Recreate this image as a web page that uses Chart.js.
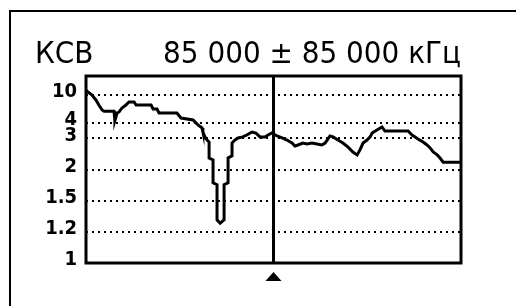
<!DOCTYPE html>
<html>
<head>
<meta charset="utf-8">
<script src="https://cdn.jsdelivr.net/npm/chart.js@4/dist/chart.umd.min.js"></script>
<style>
html,body{margin:0;padding:0;background:#fff;}
canvas{display:block;}
</style>
</head>
<body>
<canvas id="c" width="516" height="306"></canvas>
<script>
// ---- data ----
const titleLeft = 'КСВ';
const titleRight = '85 000 ± 85 000 кГц';
const freqMin = 0, freqCenter = 85, freqMax = 170; // MHz
const yTicks = [1, 1.2, 1.5, 2, 3, 4, 10];
const freqMHz = [0, 2.7, 4.5, 5.9, 7.3, 8.2, 11.3, 12.7, 13.1, 14.1,
  15.0, 16.3, 18.1, 19.5, 21.8, 22.7, 29.5, 30.4, 32.2, 33.1,
  41.2, 43.1, 48.5, 49.4, 50.8, 52.6, 53.0, 53.9, 54.9, 55.8,
  55.8, 57.6, 57.6, 59.4, 59.4, 60.8, 62.6, 62.6, 64.4, 64.4,
  66.2, 66.2, 67.5, 68.9, 71.1, 72.9, 75.2, 77.0, 78.9, 81.1,
  82.5, 84.3, 86.6, 88.9, 91.1, 93.4, 94.7, 96.1, 98.3, 100.2,
  102.4, 104.7, 106.9, 108.4, 110.6, 112.0, 114.2, 116.5, 118.8, 121.0,
  122.9, 124.2, 125.6, 127.4, 128.8, 129.7, 131.9, 134.2, 135.5, 146.0,
  147.8, 149.2, 150.5, 152.8, 154.6, 156.0, 157.4, 159.2, 160.5, 161.9,
  170.0];
const swr = [13.0, 9.8, 7.8, 6.4, 5.5, 5.3, 5.3, 5.3, 4.2, 5.05,
  5.2, 5.85, 6.45, 7.2, 7.2, 6.45, 6.45, 5.67, 5.67, 5.05,
  5.05, 4.45, 4.25, 4.07, 3.82, 3.6, 3.34, 3.07, 2.92, 2.83,
  2.28, 2.23, 1.75, 1.72, 1.30, 1.27, 1.30, 1.72, 1.75, 2.28,
  2.34, 2.79, 2.92, 3.02, 3.07, 3.17, 3.34, 3.28, 3.07, 3.07,
  3.17, 3.28, 3.12, 3.02, 2.92, 2.79, 2.67, 2.71, 2.79, 2.75,
  2.79, 2.75, 2.71, 2.79, 3.12, 3.07, 2.92, 2.79, 2.63, 2.46,
  2.37, 2.53, 2.79, 2.92, 3.07, 3.28, 3.46, 3.67, 3.4, 3.4,
  3.17, 3.07, 2.97, 2.83, 2.71, 2.60, 2.46, 2.37, 2.28, 2.17,
  2.17];

// ---- SWR scale: position proportional to 1 - 1/SWR ----
class SwrScale extends Chart.Scale {
  static id = 'swr';
  static defaults = {};
  determineDataLimits() { this.min = 1; this.max = 1000; }
  buildTicks() { return yTicks.map(v => ({ value: v })); }
  getLabelForValue(v) { return String(v); }
  getPixelForValue(v) { return this.getPixelForDecimal(1 - 1 / v); }
  getPixelForTick(i) { return this.getPixelForValue(this.ticks[i].value); }
  getValueForPixel(p) { return 1 / (1 - this.getDecimalForPixel(p)); }
}
Chart.register(SwrScale);

const FONT = '"DejaVu Sans Condensed", "Liberation Sans Narrow", "DejaVu Sans", sans-serif';
Chart.defaults.color = '#000';
Chart.defaults.font.family = FONT;

const decor = {
  id: 'decor',
  beforeDraw(chart) {
    const c = chart.ctx;
    c.save();
    c.fillStyle = '#fff';
    c.fillRect(0, 0, chart.width, chart.height);
    c.strokeStyle = '#000';
    c.lineWidth = 2;
    c.strokeRect(10, 11, chart.width + 20, chart.height + 20);
    c.restore();
  },
  afterDatasetsDraw(chart) {
    const c = chart.ctx, a = chart.chartArea;
    c.save();
    c.strokeStyle = '#000';
    c.lineWidth = 3;
    c.strokeRect(a.left, a.top, a.right - a.left, a.bottom - a.top);
    const mx = chart.scales.x.getPixelForValue(freqCenter);
    c.fillStyle = '#000';
    c.beginPath();
    c.moveTo(mx, a.bottom + 9);
    c.lineTo(mx + 8, a.bottom + 18);
    c.lineTo(mx - 8, a.bottom + 18);
    c.closePath();
    c.fill();
    c.restore();
  }
};

new Chart(document.getElementById('c'), {
  type: 'line',
  data: {
    datasets: [{
      data: freqMHz.map((f, i) => ({ x: f, y: swr[i] })),
      borderColor: '#000',
      borderWidth: 3,
      pointRadius: 0,
      tension: 0,
      fill: false
    }]
  },
  options: {
    responsive: false,
    animation: false,
    layout: { padding: { left: 35, right: 55, top: 0, bottom: 43 } },
    plugins: {
      legend: { display: false },
      tooltip: { enabled: false },
      title: {
        display: true, text: titleLeft, align: 'start',
        font: { size: 31, weight: 'normal', lineHeight: 1.2 },
        padding: { top: 36, bottom: -37.2 }
      },
      subtitle: {
        display: true, text: titleRight, align: 'end', color: '#000',
        font: { size: 31, weight: 'normal', lineHeight: 1.2 },
        padding: { top: 0, bottom: 2.8 }
      }
    },
    scales: {
      x: {
        type: 'linear', min: freqMin, max: freqMax,
        afterBuildTicks: s => { s.ticks = [{ value: freqCenter }]; },
        afterFit: s => { s.height = 0; },
        ticks: { display: false },
        grid: { color: '#000', lineWidth: 3, drawTicks: false },
        border: { display: false }
      },
      y: {
        type: 'swr',
        position: 'left',
        afterFit: s => { s.width = 51; },
        ticks: { padding: 9, labelOffset: -3, font: { size: 20, weight: 'bold' } },
        grid: {
          color: ctx => (ctx.tick && ctx.tick.value === 1) ? 'rgba(0,0,0,0)' : '#000',
          lineWidth: 2, drawTicks: false
        },
        border: { display: false, dash: [2, 4] }
      }
    }
  },
  plugins: [decor]
});
</script>
</body>
</html>
